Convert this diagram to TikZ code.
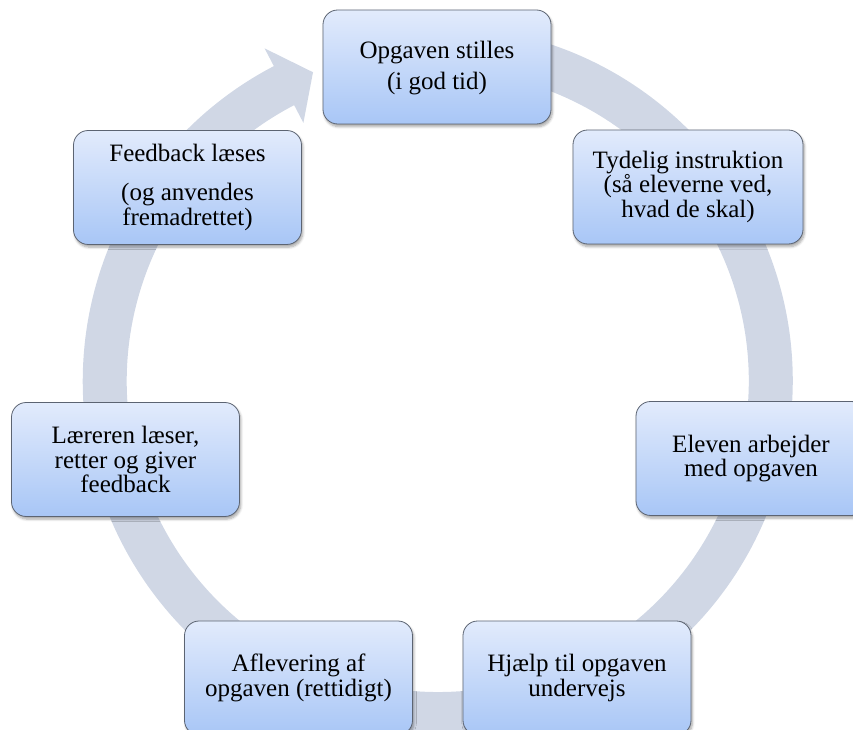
\documentclass[tikz,border=0pt]{standalone}
\usepackage{fontspec}
\setmainfont{Liberation Serif}
\usetikzlibrary{shadows.blur}
\definecolor{ringcol}{RGB}{208,215,229}
\definecolor{boxtop}{RGB}{226,235,252}
\definecolor{boxbot}{RGB}{168,198,246}
\definecolor{boxline}{RGB}{92,100,114}
\tikzset{
  stepbox/.style={draw=boxline, line width=0.6pt, rounded corners=11pt,
    minimum width=171pt, minimum height=85.5pt, align=center,
    top color=boxtop, bottom color=boxbot, text=black,
    font=\fontsize{18.75}{18.4}\selectfont,
    blur shadow={shadow blur steps=6, shadow xshift=1pt, shadow yshift=-2pt, shadow opacity=35}},
}
\begin{document}
\begin{tikzpicture}[x=0.75pt,y=0.75pt]
\useasboundingbox (0,0) rectangle (853,730);
\coordinate (ctr) at (437.75,349);
% ring with arrowhead
\begin{scope}[shift={(ctr)}]
\fill[ringcol] (85:266.25pt) arc[start angle=85, end angle=-242.5, radius=266.25pt]
  -- (-242.5:281.25pt) -- (-248:249.75pt) -- (-242.5:218.25pt) -- (-242.5:233.25pt)
  arc[start angle=-242.5, end angle=85, radius=233.25pt] -- cycle;
\end{scope}
% boxes
\node[stepbox] (b1) at (437,663) {\rule{0pt}{14pt}Opgaven stilles\\[5pt](i god tid)};
\node[stepbox, minimum width=172.5pt] (b2) at (688,543) {Tydelig instruktion\\(så eleverne ved,\\hvad de skal)};
\node[stepbox, minimum width=172.5pt] (b3) at (751,271.5) {Eleven arbejder\\med opgaven};
\node[stepbox] (b4) at (577,52) {Hjælp til opgaven\\undervejs};
\node[stepbox] (b5) at (298.5,52) {Aflevering af\\opgaven (rettidigt)};
\node[stepbox] (b6) at (125.5,270.5) {Læreren læser,\\retter og giver\\feedback};
\node[stepbox] (b7) at (187.5,542.5) {Feedback læses\\[11pt](og anvendes\\fremadrettet)};
\end{tikzpicture}
\end{document}
